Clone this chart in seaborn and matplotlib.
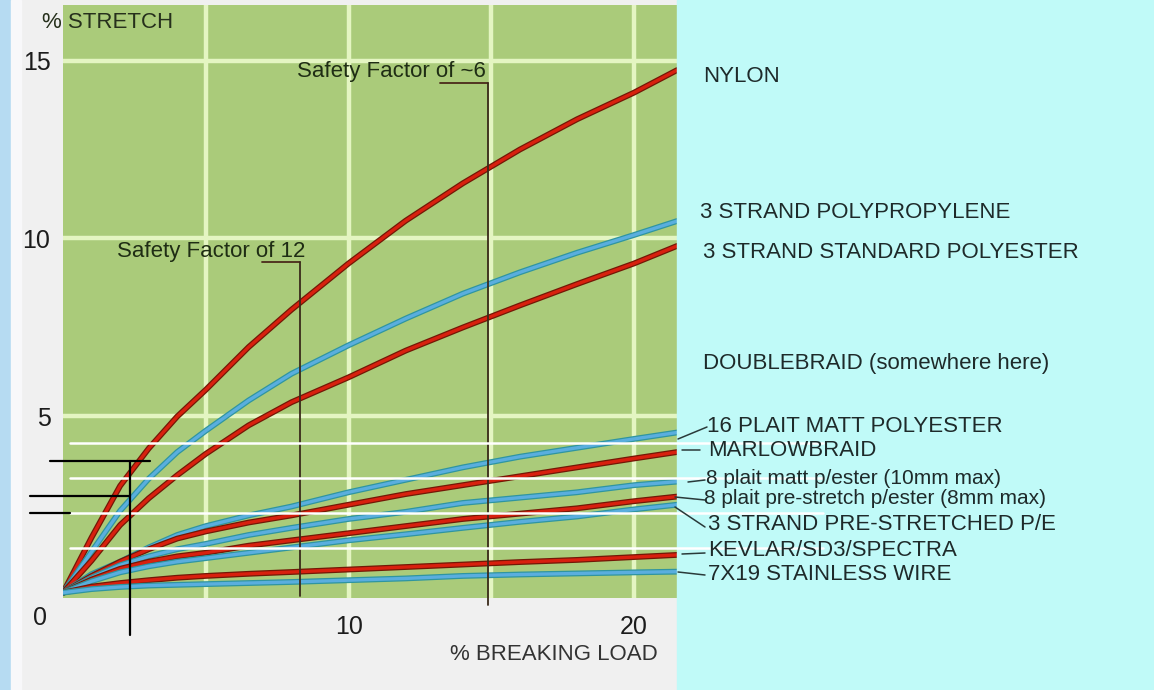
import numpy as np
import pandas as pd
import seaborn as sns
import matplotlib.pyplot as plt
import matplotlib.patheffects as pe
from matplotlib.lines import Line2D
from matplotlib.patches import Rectangle

# % breaking load sample points
load = [0, 1, 2, 3, 4, 5, 6.5, 8, 10, 12, 14, 16, 18, 20, 21.5]

# % stretch
nylon = [0.05, 1.6, 3.05, 4.1, 5.0, 5.75, 6.95, 8.0, 9.3, 10.5, 11.55, 12.5, 13.35, 14.1, 14.73]
polypropylene = [0.05, 1.2, 2.35, 3.25, 4.0, 4.6, 5.45, 6.2, 7.0, 7.75, 8.45, 9.05, 9.6, 10.1, 10.49]
std_polyester = [0.05, 0.95, 1.95, 2.7, 3.35, 3.95, 4.75, 5.4, 6.1, 6.85, 7.5, 8.12, 8.72, 9.3, 9.79]
plait16 = [0.05, 0.57, 0.92, 1.32, 1.67, 1.92, 2.22, 2.47, 2.87, 3.22, 3.57, 3.87, 4.12, 4.37, 4.55]
marlowbraid = [0.05, 0.52, 0.92, 1.27, 1.57, 1.77, 2.02, 2.22, 2.52, 2.82, 3.07, 3.32, 3.57, 3.82, 4.0]
plait8_matt = [0.05, 0.47, 0.82, 1.07, 1.27, 1.42, 1.67, 1.87, 2.12, 2.32, 2.57, 2.72, 2.87, 3.07, 3.17]
plait8_prestretch = [0.05, 0.42, 0.72, 0.92, 1.07, 1.17, 1.37, 1.52, 1.72, 1.92, 2.12, 2.27, 2.42, 2.62, 2.75]
strand3_prestretched = [0.05, 0.37, 0.62, 0.79, 0.92, 1.02, 1.17, 1.32, 1.52, 1.69, 1.87, 2.04, 2.19, 2.39, 2.52]
kevlar = [0.05, 0.22, 0.32, 0.4, 0.47, 0.52, 0.58, 0.63, 0.7, 0.77, 0.84, 0.91, 0.97, 1.05, 1.11]
wire = [0.05, 0.15, 0.21, 0.25, 0.27, 0.29, 0.32, 0.35, 0.4, 0.45, 0.52, 0.56, 0.59, 0.62, 0.64]

series = [
    ("NYLON", nylon, "red"),
    ("3 STRAND POLYPROPYLENE", polypropylene, "blue"),
    ("3 STRAND STANDARD POLYESTER", std_polyester, "red"),
    ("16 PLAIT MATT POLYESTER", plait16, "blue"),
    ("MARLOWBRAID", marlowbraid, "red"),
    ("8 plait matt p/ester (10mm max)", plait8_matt, "blue"),
    ("8 plait pre-stretch p/ester (8mm max)", plait8_prestretch, "red"),
    ("3 STRAND PRE-STRETCHED P/E", strand3_prestretched, "blue"),
    ("KEVLAR/SD3/SPECTRA", kevlar, "red"),
    ("7X19 STAINLESS WIRE", wire, "blue"),
]

rows = []
for name, vals, kind in series:
    for x, y in zip(load, vals):
        rows.append({"rope": name, "load": x, "stretch": y, "kind": kind})
df = pd.DataFrame(rows)

W, H = 1154, 690
sns.set_style("white")
plt.rcParams["font.family"] = ["Liberation Sans", "DejaVu Sans"]

fig = plt.figure(figsize=(W / 100, H / 100), dpi=100, facecolor="#f0f0f0")

def fx(x):
    return x / W

def fy(y):
    return 1 - y / H

# backgrounds: cyan label panel, blue left strip
fig.patches.append(Rectangle((fx(677), 0), 1 - fx(677), 1, transform=fig.transFigure,
                             color="#c0faf8", zorder=0))
fig.patches.append(Rectangle((0, 0), fx(11), 1, transform=fig.transFigure,
                             color="#b6dbf2", zorder=0))
fig.patches.append(Rectangle((fx(11), 0), fx(10), 1, transform=fig.transFigure,
                             color="#f8f8fa", zorder=0))

ax = fig.add_axes([fx(63), fy(598), fx(677) - fx(63), fy(5) - fy(598)])
ax.set_facecolor("#aacb7a")

styles = {
    "red": dict(color="#d8200e", stroke="#731806"),
    "blue": dict(color="#5aaede", stroke="#2f95a0"),
}
for name, vals, kind in series:
    st = styles[kind]
    sns.lineplot(data=df[df["rope"] == name], x="load", y="stretch", ax=ax,
                 color=st["color"], linewidth=2.4, legend=False,
                 solid_joinstyle="round", solid_capstyle="round",
                 path_effects=[pe.Stroke(linewidth=4.2, foreground=st["stroke"]), pe.Normal()],
                 zorder=3)

ax.set_xlim(0, 21.5)
ax.set_ylim(-0.1, 16.56)
ax.set_xticks([5, 10, 15, 20])
ax.set_xticklabels(["", "10", "", "20"])
ax.set_yticks([5, 10, 15])
ax.set_yticklabels(["5", "10", "15"])
ax.grid(True, color="#e4f5c2", linewidth=3.2, zorder=1)
ax.set_axisbelow(True)
ax.tick_params(length=0, labelsize=18, labelcolor="#1c1c1c")
ax.tick_params(axis="y", pad=9)
ax.tick_params(axis="x", pad=12)
for s in ax.spines.values():
    s.set_visible(False)
ax.set_xlabel("")
ax.set_ylabel("")

fig.text(fx(40), fy(618), "0", fontsize=18, color="#1c1c1c", ha="center", va="center")
fig.text(fx(42), fy(22), "% STRETCH", fontsize=16, color="#26301c", ha="left", va="center")
fig.text(fx(450), fy(655), "% BREAKING LOAD", fontsize=16, color="#333333", ha="left", va="center")

def seg(x0, y0, x1, y1, color, lw):
    fig.add_artist(Line2D([fx(x0), fx(x1)], [fy(y0), fy(y1)], transform=fig.transFigure,
                          color=color, linewidth=lw, zorder=5))

# safety factor markers
fig.text(fx(117), fy(252), "Safety Factor of 12", fontsize=16, color="#1f2d14", ha="left", va="center")
seg(262, 262, 300, 262, "#4a2a1a", 1.3)
seg(300, 262, 300, 596, "#3a2a1a", 1.3)
fig.text(fx(297), fy(72), "Safety Factor of ~6", fontsize=16, color="#1f2d14", ha="left", va="center")
seg(440, 83, 488, 83, "#4a2a1a", 1.3)
seg(488, 83, 488, 605, "#3a2a1a", 1.3)

# overlay guide lines
for yy in [443, 478, 513, 548]:
    seg(70, yy, 823, yy, "white", 1.8)
seg(50, 461, 150, 461, "black", 1.6)
seg(30, 496, 130, 496, "black", 1.6)
seg(30, 513, 70, 513, "black", 1.6)
seg(130, 461, 130, 635, "black", 1.6)

# right-hand labels
labels = [
    ("NYLON", 703, 76, 16),
    ("3 STRAND POLYPROPYLENE", 700, 213, 16),
    ("3 STRAND STANDARD POLYESTER", 703, 252, 16),
    ("DOUBLEBRAID (somewhere here)", 703, 363, 16),
    ("16 PLAIT MATT POLYESTER", 707, 427, 16),
    ("MARLOWBRAID", 708, 451, 16),
    ("8 plait matt p/ester (10mm max)", 706, 478, 15),
    ("8 plait pre-stretch p/ester (8mm max)", 704, 498, 15),
    ("3 STRAND PRE-STRETCHED P/E", 708, 524, 16),
    ("KEVLAR/SD3/SPECTRA", 708, 550, 16),
    ("7X19 STAINLESS WIRE", 708, 575, 16),
]
for text, x, y, size in labels:
    fig.text(fx(x), fy(y), text, fontsize=size, color="#1e2a2a", ha="left", va="center", zorder=6)

leaders = [
    (678, 439, 707, 427),
    (682, 450, 700, 450),
    (688, 482, 705, 480),
    (675, 497, 705, 500),
    (675, 507, 705, 527),
    (682, 554, 705, 553),
    (678, 572, 705, 575),
]
for x0, y0, x1, y1 in leaders:
    seg(x0, y0, x1, y1, "#2a3a3a", 1.1)

fig.savefig("out.png", dpi=100, facecolor=fig.get_facecolor())
